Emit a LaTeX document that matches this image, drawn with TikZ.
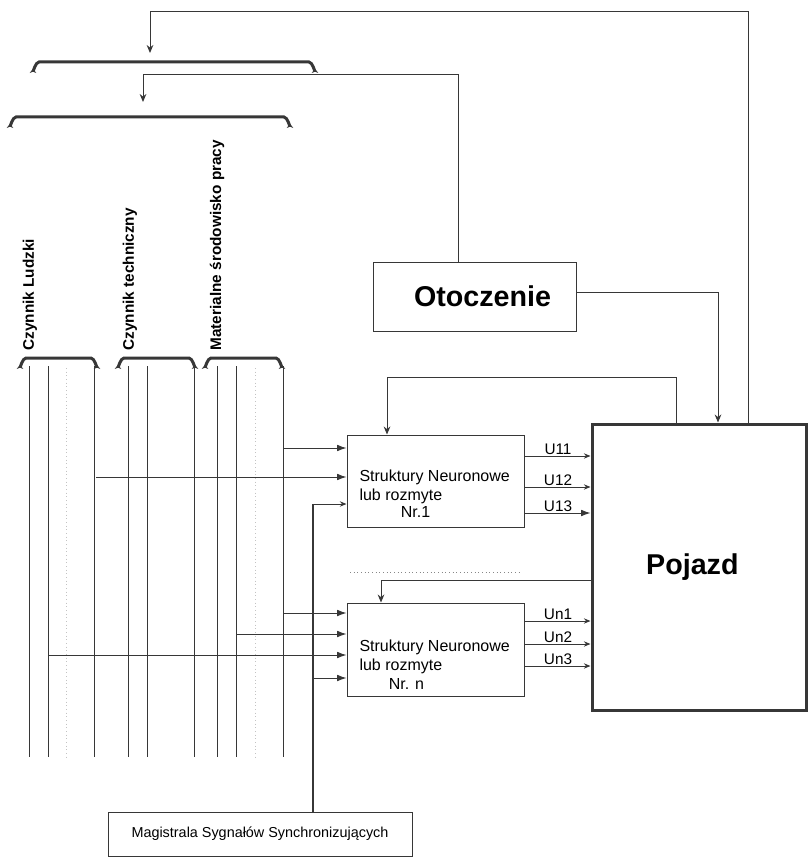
\documentclass[tikz,border=0pt]{standalone}
\usepackage{fontspec}
\setmainfont{Liberation Sans}
\usetikzlibrary{arrows.meta}

\definecolor{lin}{RGB}{55,55,55}
\tikzset{every picture/.style={line width=0.75pt}}
\tikzset{
  blok/.style={draw=lin, rectangle, inner sep=0pt},
  klamra/.style={draw=lin, line width=2.25pt, {Stealth[length=3pt,width=5pt]}-{Stealth[length=3pt,width=5pt]}},
  linia/.style={draw=lin},
  blada/.style={draw=lin!30, dotted},
  wej/.style={draw=lin, -{Latex[length=7pt,width=5pt]}},
  wyj/.style={draw=lin, -{Stealth[length=5pt,width=4pt]}},
  wdol/.style={draw=lin, -{Stealth[length=6pt,width=5pt]}},
  sygn/.style={font=\fontsize{11.5}{13}\selectfont, anchor=south, inner sep=1pt},
  opis/.style={rotate=90, anchor=west, font=\fontsize{11.5}{13}\selectfont\bfseries, inner sep=0pt},
}

\begin{document}
\begin{tikzpicture}[x=0.75pt,y=0.75pt,yscale=-1,xscale=1]
\useasboundingbox (0,0) rectangle (808,859);

%Shape: Rectangle
\node[blok, minimum width=152.25pt, minimum height=51.75pt, font=\fontsize{21.5}{26}\selectfont\bfseries] (otoczenie) at (474.5,296.5) {\hspace*{12pt}Otoczenie};
%Shape: Rectangle
\node[blok, line width=2.25pt, minimum width=160.5pt, minimum height=214.5pt, font=\fontsize{21.5}{26}\selectfont\bfseries] (pojazd) at (699,567) {Pojazd\hspace*{10pt}};
%Shape: Rectangle
\node[blok, minimum width=132.75pt, minimum height=69pt] (s1) at (435.5,481) {};
%Shape: Rectangle
\node[blok, minimum width=132.75pt, minimum height=69.75pt] (sn) at (435.5,649.5) {};
%Shape: Rectangle
\node[blok, minimum width=228pt, minimum height=33pt, font=\fontsize{10.8}{13}\selectfont] (magistrala) at (260,834) {Magistrala Sygnałów Synchronizujących};

% Text Node
\node[anchor=north west, align=left, inner sep=0pt, font=\fontsize{12}{14.25}\selectfont] (s1txt) at (359,469) {Struktury Neuronowe\\lub rozmyte\\[-1.5pt]\hspace*{31pt}Nr.1};
% Text Node
\node[anchor=north west, align=left, inner sep=0pt, font=\fontsize{12}{14.25}\selectfont] (sntxt) at (359,639) {Struktury Neuronowe\\lub rozmyte\\\hspace*{22pt}Nr. n};

% Text Node
\node[opis] (ludzki) at (30,351) {Czynnik Ludzki};
% Text Node
\node[opis] (techn) at (130,351) {Czynnik techniczny};
% Text Node
\node[opis] (mater) at (217,351) {Materialne środowisko pracy};

%Shape: Braces
\foreach \a/\b/\y in {33/315/62, 10/290/117, 20/97/358, 118/195/358, 205/282/358}
  \draw[klamra] (\a,\y+7) to[out=90,in=180] (\a+6,\y) -- (\b-6,\y) to[out=0,in=90] (\b,\y+7);

%Straight Lines
\foreach \x in {29,48,94,128,147,194,217,236,283}
  \draw[linia] (\x,366) -- (\x,757);
\foreach \x in {66,255}
  \draw[blada] (\x,368) -- (\x,757);

% feedback to the braces
\coordinate (brA) at (150,53);
\coordinate (brB) at (143,102);
\coordinate (gora) at (748,12);
\coordinate (otg) at (458,75);
\draw[wdol] (pojazd.north -| gora) -- (gora) -- (gora -| brA) -- (brA);
\draw[wdol] (otoczenie.north -| otg) -- (otg) -- (otg -| brB) -- (brB);

% Otoczenie -> Pojazd
\coordinate (otp) at (718,292);
\draw[wdol] (otoczenie.east |- otp) -- (otp) -- (pojazd.north -| otp);

% Pojazd -> struktury
\coordinate (fb1a) at (676,377);
\coordinate (fb1b) at (387,377);
\draw[wdol] (pojazd.north -| fb1a) -- (fb1a) -- (fb1b) -- (s1.north -| fb1b);
\coordinate (fbn) at (381,580);
\draw[wdol] (pojazd.west |- fbn) -- (fbn) -- (sn.north -| fbn);
\draw[draw=lin!60, dotted] (350,572) -- (522,572);

% inputs Nr.1
\coordinate (a1) at (283,448);
\coordinate (a2) at (96,477);
\coordinate (bus) at (313,504);
\draw[wej] (a1) -- (s1.west |- a1);
\draw[wej] (a2) -- (s1.west |- a2);
\draw[wyj] (bus) -- (s1.west |- bus);

% inputs Nr. n
\coordinate (b1) at (283,613);
\coordinate (b2) at (236,634);
\coordinate (b3) at (48,655);
\coordinate (busn) at (313,678);
\draw[wej] (b1) -- (sn.west |- b1);
\draw[wej] (b2) -- (sn.west |- b2);
\draw[wej] (b3) -- (sn.west |- b3);
\draw[wej] (busn) -- (sn.west |- busn);

% synchronisation bus
\draw[draw=lin, line width=1.5pt] (magistrala.north -| bus) -- (bus);

% outputs
\node[sygn] (u11) at (558,456) {U11};
\node[sygn] (u12) at (558,487) {U12};
\node[sygn] (u13) at (558,513) {U13};
\node[sygn] (un1) at (558,621) {Un1};
\node[sygn] (un2) at (558,644) {Un2};
\node[sygn] (un3) at (558,666) {Un3};
\draw[wyj] (s1.east |- u11.south) -- (pojazd.west |- u11.south);
\draw[wyj] (s1.east |- u12.south) -- (pojazd.west |- u12.south);
\draw[wej] (s1.east |- u13.south) -- (pojazd.west |- u13.south);
\draw[wyj] (sn.east |- un1.south) -- (pojazd.west |- un1.south);
\draw[wyj] (sn.east |- un2.south) -- (pojazd.west |- un2.south);
\draw[wyj] (sn.east |- un3.south) -- (pojazd.west |- un3.south);

\end{tikzpicture}
\end{document}
